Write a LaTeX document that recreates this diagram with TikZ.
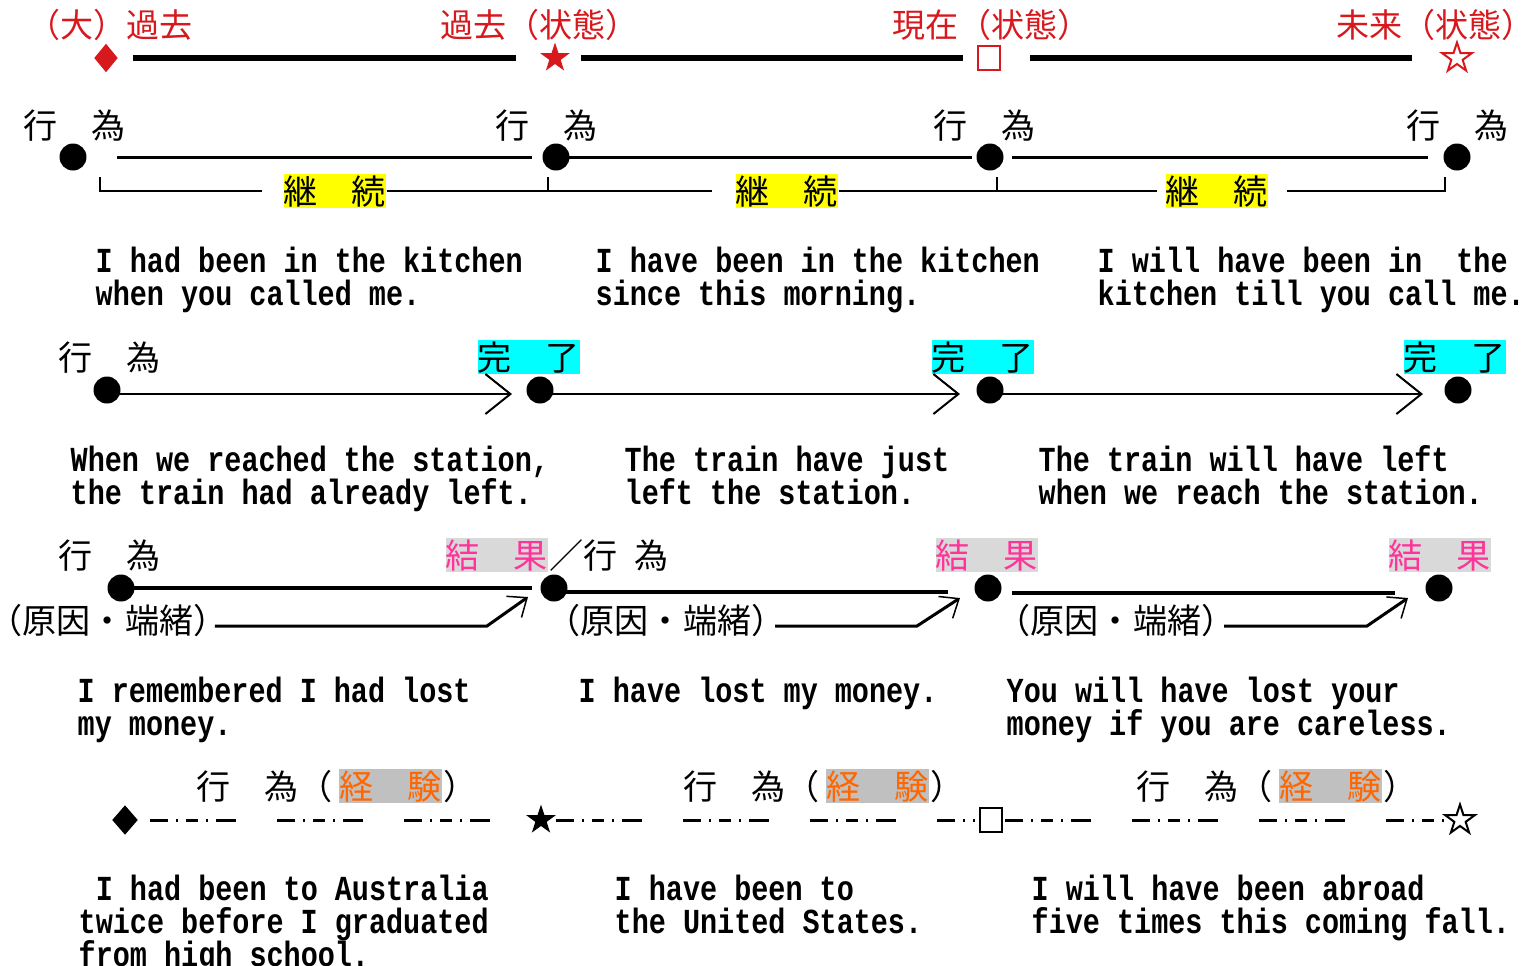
\documentclass[tikz,border=0pt]{standalone}
\usepackage{fontspec}
\usepackage{tikz}
\usetikzlibrary{shapes.geometric}
\usetikzlibrary{arrows.meta}
\usetikzlibrary{positioning}
\newfontfamily\jpfont{Noto Sans CJK JP}
\newfontfamily\jphalt{Noto Sans CJK JP}[RawFeature = +halt]
\newfontfamily\enfont{Liberation Mono}[FakeStretch = 0.81]
\setlength{\lineskiplimit}{-5pt}
\definecolor{tred}{RGB}{215,25,30}
\definecolor{contyellow}{RGB}{255,255,0}
\definecolor{donecyan}{RGB}{0,255,255}
\definecolor{respink}{RGB}{255,51,153}
\definecolor{exporange}{RGB}{255,102,0}
\definecolor{resgray}{RGB}{217,217,217}
\definecolor{expgray}{RGB}{192,192,192}

\begin{document}
\begin{tikzpicture}[x = 0.1mm, y = -0.1mm,
  head/.style = {font = \jpfont\fontsize{9.4pt}{11pt}\selectfont, text = tred, anchor = west, inner sep = 0},
  jp/.style = {font = \jpfont\fontsize{9.7pt}{11pt}\selectfont, inner sep = 0, text height = 3mm, text depth = 0.4mm, anchor = west},
  contbox/.style = {jp, fill = contyellow},
  donebox/.style = {jp, fill = donecyan},
  resbox/.style = {jp, fill = resgray, text = respink},
  expbox/.style = {jp, fill = expgray, text = exporange},
  dot/.style = {circle, fill, minimum size = 2.7mm, inner sep = 0},
  sent/.style = {font = \enfont\bfseries\fontsize{10pt}{9.4pt}\selectfont, align = left, anchor = north west, inner sep = 0},
  era/.style = {line width = 0.6mm},
  actline/.style = {line width = 0.3mm},
  brk/.style = {line width = 0.25mm},
  donearrow/.style = {line width = 0.2mm, -{Straight Barb[length = 2.5mm, width = 4mm]}},
  resline/.style = {line width = 0.4mm},
  causearrow/.style = {line width = 0.3mm, -{Straight Barb[length = 1.6mm, width = 2.6mm, line width = 0.15mm]}},
  expline/.style = {line width = 0.3mm, dash pattern = on 1.8mm off 0.8mm on 0.2mm off 0.8mm on 1.2mm off 0.8mm on 0.2mm off 0.8mm on 2mm off 4.1mm},
  diam/.style = {diamond, inner sep = 0, minimum width = 2.4mm, minimum height = 2.9mm},
  starsym/.style = {star, star points = 5, star point ratio = 2.6, inner sep = 0, minimum size = 3.1mm},
  boxsym/.style = {rectangle, inner sep = 0, minimum width = 2.2mm, minimum height = 2.4mm, line width = 0.2mm}]
 \useasboundingbox (0, 0) rectangle (1530, 965);

 \node[head] (h1) at (27, 25) {（大）過去};
 \node[head] (h2) at (440, 25) {過去（状態）};
 \node[head] (h3) at (892, 25) {現在（状態）};
 \node[head] (h4) at (1336, 25) {未来（状態）};
 \node[diam, fill = tred] (p1) at (106, 58) {};
 \node[starsym, fill = tred] (p2) at (555, 58) {};
 \node[boxsym, draw = tred] (p3) at (989, 58) {};
 \node[starsym, draw = tred, line width = 0.2mm] (p4) at (1457, 58) {};
 \draw[era, shorten <= 2.7mm, shorten >= 3.9mm] (p1.center) -- (p2.center);
 \draw[era, shorten <= 2.6mm, shorten >= 2.6mm] (p2.center) -- (p3.center);
 \draw[era, shorten <= 4.1mm, shorten >= 4.5mm] (p3.center) -- (p4.center);

 \node[jp] (a1) at (23, 125) {行　為};
 \node[jp] (a2) at (495, 125) {行　為};
 \node[jp] (a3) at (933, 125) {行　為};
 \node[jp] (a4) at (1406, 125) {行　為};
 \node[dot] (r1a) at (73, 157) {};
 \node[dot] (r1b) at (556, 157) {};
 \node[dot] (r1c) at (990, 157) {};
 \node[dot] (r1d) at (1457, 157) {};
 \draw[actline, shorten <= 4.4mm, shorten >= 2.4mm] (r1a.center) -- (r1b.center);
 \draw[actline, shorten >= 1.8mm] (r1b.center) -- (r1c.center);
 \draw[actline, shorten <= 2.2mm, shorten >= 2.9mm] (r1c.center) -- (r1d.center);
 \node[contbox] (c1) at (283, 191) {継　続};
 \node[contbox] (c2) at (735, 191) {継　続};
 \node[contbox] (c3) at (1165, 191) {継　続};
 \coordinate (b0) at (100, 177);
 \coordinate (b1) at (548, 177);
 \coordinate (b2) at (997, 177);
 \coordinate (b3) at (1445, 177);
 \draw[brk] (b0) |- ([xshift = -2.1mm]c1.west);
 \draw[brk] (c1.east) -- ([xshift = -2.3mm]c2.west);
 \draw[brk] (b1) -- (b1 |- c1.east);
 \draw[brk] (c2.east) -- ([xshift = -0.8mm]c3.west);
 \draw[brk] (b2) -- (b2 |- c2.east);
 \draw[brk] ([xshift = 1.8mm]c3.east) -| (b3);
 \node[sent] (e1) at (95, 246) {I had been in the kitchen\\when you called me.};
 \node[sent] (e2) at (595, 246) {I have been in the kitchen\\since this morning.};
 \node[sent] (e3) at (1097, 246) {I will have been in\ \ the\\kitchen till you call me.};

 \node[jp] (a5) at (58, 357) {行　為};
 \node[donebox] (f1) at (477, 357) {完　了};
 \node[donebox] (f2) at (931, 357) {完　了};
 \node[donebox] (f3) at (1403, 357) {完　了};
 \node[dot] (r2a) at (107, 390) {};
 \node[dot] (r2b) at (540, 390) {};
 \node[dot] (r2c) at (990, 390) {};
 \node[dot] (r2d) at (1458, 390) {};
 \draw[donearrow, shorten >= 2.8mm] ([yshift = -0.4mm]r2a.center) -- ([yshift = -0.4mm]r2b.center);
 \draw[donearrow, shorten >= 3mm] ([yshift = -0.4mm]r2b.center) -- ([yshift = -0.4mm]r2c.center);
 \draw[donearrow, shorten >= 3.5mm] ([yshift = -0.4mm]r2c.center) -- ([yshift = -0.4mm]r2d.center);
 \node[sent] (e4) at (70, 445) {When we reached the station,\\the train had already left.};
 \node[sent] (e5) at (624, 445) {The train have just\\left the station.};
 \node[sent] (e6) at (1038, 445) {The train will have left\\when we reach the station.};

 \node[jp] (a6) at (58, 555) {行　為};
 \node[resbox] (g1) at (445, 555) {結　果};
 \node[jp, right = 0pt of g1] (a7) {／行\hspace{0.5em}為};
 \node[resbox] (g2) at (935, 555) {結　果};
 \node[resbox] (g3) at (1388, 555) {結　果};
 \node[dot] (r3a) at (121, 588) {};
 \node[dot] (r3b) at (554, 588) {};
 \node[dot] (r3c) at (988, 588) {};
 \node[dot] (r3d) at (1439, 588) {};
 \draw[resline, shorten >= 2.2mm] (r3a.center) -- (r3b.center);
 \draw[resline, shorten >= 4mm] ([yshift = -0.4mm]r3b.center) -- ([yshift = -0.4mm]r3c.center);
 \draw[resline, shorten <= 2.4mm, shorten >= 4.4mm] ([yshift = -0.5mm]r3c.center) -- ([yshift = -0.5mm]r3d.center);
 \node[jp] (k1) at (5, 620) {{\jphalt （}原因・端緒）};
 \node[jp] (k2) at (563, 620) {{\jphalt （}原因・端緒）};
 \node[jp] (k3) at (1013, 620) {{\jphalt （}原因・端緒）};
 \coordinate (t1) at (528, 597);
 \coordinate (t2) at (960, 598);
 \coordinate (t3) at (1408, 598);
 \draw[causearrow] ([xshift = -1.3mm, yshift = -0.6mm]k1.east) -- ++(27.2mm, 0) -- (t1);
 \draw[causearrow] ([xshift = -1.1mm, yshift = -0.6mm]k2.east) -- ++(14.2mm, 0) -- (t2);
 \draw[causearrow] ([xshift = -1.2mm, yshift = -0.6mm]k3.east) -- ++(14.3mm, 0) -- (t3);
 \node[sent] (e7) at (77, 676) {I remembered I had lost\\my money.};
 \node[sent] (e8) at (578, 676) {I have lost my money.};
 \node[sent] (e9) at (1006, 676) {You will have lost your\\money if you are careless.};

 \node[jp] (x1) at (196, 786) {行　為（};
 \node[expbox, right = 0.5mm of x1] (y1) {経　験};
 \node[jp, right = 0pt of y1] (z1) {）};
 \node[jp] (x2) at (683, 786) {行　為（};
 \node[expbox, right = 0.5mm of x2] (y2) {経　験};
 \node[jp, right = 0pt of y2] (z2) {）};
 \node[jp] (x3) at (1136, 786) {行　為（};
 \node[expbox, right = 0.5mm of x3] (y3) {経　験};
 \node[jp, right = 0pt of y3] (z3) {）};
 \node[diam, fill, minimum width = 2.6mm, minimum height = 3mm] (s1) at (125, 820) {};
 \node[starsym, fill] (s2) at (541, 820) {};
 \node[boxsym, draw] (s3) at (991, 820) {};
 \node[starsym, draw, line width = 0.2mm] (s4) at (1460, 820) {};
 \draw[expline, shorten <= 2.5mm, shorten >= 1.3mm] (s1.center) -- (s2.center);
 \draw[expline, shorten <= 1.5mm, shorten >= 1.6mm] (s2.center) -- (s3.center);
 \draw[expline, shorten <= 1.4mm, shorten >= 1.5mm] (s3.center) -- (s4.center);
 \node[sent] (e10) at (78, 874) {\ I had been to Australia\\twice before I graduated\\from high school.};
 \node[sent] (e11) at (614, 874) {I have been to\\the United States.};
 \node[sent] (e12) at (1031, 874) {I will have been abroad\\five times this coming fall.};
\end{tikzpicture}
\end{document}
